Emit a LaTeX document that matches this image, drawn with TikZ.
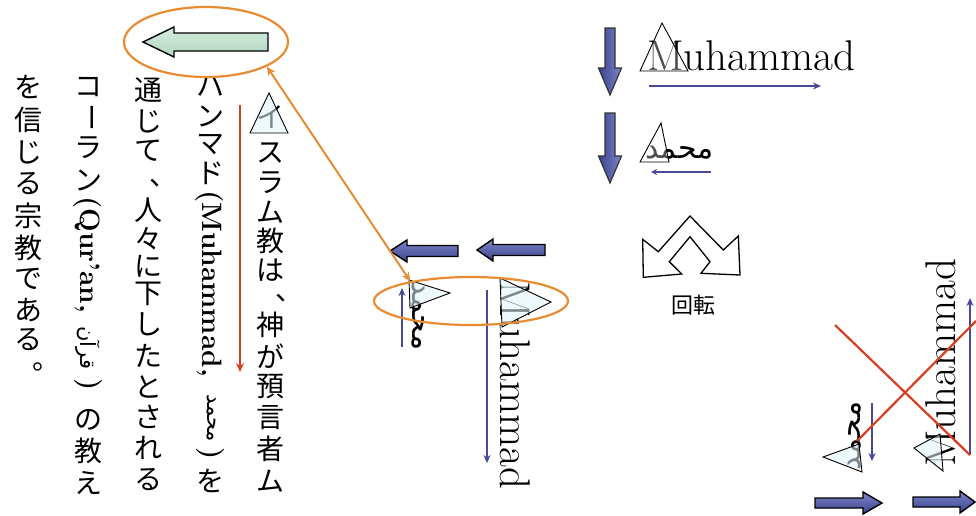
\documentclass[tikz,border=0pt]{standalone}
\usepackage{fontspec}
\usetikzlibrary{arrows.meta,shapes.geometric}
\newfontfamily\jpfont{Noto Sans CJK JP}
\newfontfamily\arabicfont[Script=Arabic]{DejaVu Sans}
\TeXXeTstate=1
\definecolor{orangec}{RGB}{232,140,50}
\definecolor{redc}{RGB}{214,64,32}
\definecolor{arrblue}{RGB}{72,74,152}
\definecolor{blklight}{RGB}{124,134,200}
\definecolor{blkdark}{RGB}{58,66,140}
\definecolor{greenl}{RGB}{214,236,222}
\definecolor{greend}{RGB}{176,214,192}
\begin{document}
\begin{tikzpicture}[x=1pt,y=-1pt,
  jp/.style={font=\jpfont\fontsize{28}{28}\selectfont, inner sep=0pt},
  jpsmall/.style={font=\jpfont\fontsize{22}{22}\selectfont, inner sep=0pt},
  lat/.style={font=\bfseries\fontsize{28}{28}\selectfont, inner sep=0pt},
  big/.style={font=\fontsize{43}{43}\selectfont, inner sep=0pt},
  ar/.style={font=\arabicfont\fontsize{30}{30}\selectfont, inner sep=0pt},
  arsmall/.style={font=\arabicfont\fontsize{21}{21}\selectfont, inner sep=0pt},
  tri/.style={draw=black, line width=0.9pt, fill=cyan!12, fill opacity=0.55},
  blkh/.style={draw=black, line width=1.4pt, top color=blklight, bottom color=blkdark},
  blkv/.style={draw=black!80, line width=1.2pt, left color=blkdark, right color=blklight},
  thinarr/.style={draw=arrblue, line width=1.8pt, -{Stealth[length=8pt,width=7pt]}},
  orline/.style={draw=orangec, line width=2.2pt},
  redline/.style={draw=redc, line width=2.2pt}
]
\useasboundingbox[fill=white] (0,0) rectangle (976,515);

% ---------- vertical Japanese text ----------
% column 1
\foreach \ch/\yy [count=\i] in {イ/117,ス/153,ラ/183,ム/212,教/241,は/270,神/325,が/356,預/387,言/418,者/449,ム/481}
  \node[jp] (ca\i) at (270,\yy) {\ch};
\node[jp, anchor=base west] (ca13) at (275.5,300) {、};
% column 2
\foreach \ch/\yy [count=\i] in {ハ/87,ン/116,マ/145,ド/173,を/481}
  \node[jp] (cb\i) at (210,\yy) {\ch};
\node[lat, rotate=-90, anchor=base west] (cb6) at (202,190) {(Muhammad,};
\node[arsmall, rotate=-90] (cb7) at (212,418) {\beginR محمد\endR};
\node[lat, rotate=-90] (cb8) at (210,454) {)};
% column 3
\foreach \ch/\yy [count=\i] in {通/90,じ/121,て/151,人/210,々/239,に/266,下/294,し/324,た/356,と/387,さ/417,れ/448,る/480}
  \node[jp] (cc\i) at (148,\yy) {\ch};
\node[jp, anchor=base west] (cc14) at (149.5,185) {、};
% column 4
\foreach \ch/\yy [count=\i] in {コ/87,ラ/148,ン/180,の/420,教/451,え/483}
  \node[jp] (cd\i) at (88,\yy) {\ch};
\node[jp, rotate=-90] (cd7) at (88,117) {ー};
\node[lat, rotate=-90, anchor=base west] (cd8) at (80,196) {(Qur'an,};
\node[arsmall, rotate=-90] (cd9) at (88,348) {\beginR قرآن\endR};
\node[lat, rotate=-90] (cd10) at (88,385) {)};
% column 5
\foreach \ch/\yy [count=\i] in {を/87,信/120,じ/152,る/184,宗/216,教/248,で/279,あ/310,る/340}
  \node[jp] (ce\i) at (28,\yy) {\ch};
\node[jp, anchor=base west] (ce10) at (32.5,369) {。};

% triangle on first character
\draw[tri] (269,93) -- (250,133) -- (288,133) -- cycle;

% red reading arrow
\coordinate (r1) at (240,105);
\coordinate (r2) at (240,372);
\draw[redline, line width=2pt, -{Stealth[length=9pt,width=8pt]}] (r1) -- (r2);

% ---------- top ellipse with green arrow ----------
\draw[draw=black, line width=1.4pt, top color=greenl, bottom color=greend]
  (143,42) -- (174,27) -- (174,33) -- (268,33) -- (268,51) -- (174,51) -- (174,57) -- cycle;
\node[ellipse, orline, minimum width=164pt, minimum height=70pt, inner sep=0pt] (e1) at (206,42) {};

% ---------- middle group ----------
\draw[blkh] (390,251) -- (407,240) -- (407,245.5) -- (458,245.5) -- (458,256.5) -- (407,256.5) -- (407,262) -- cycle;
\draw[blkh] (477,250) -- (493,239) -- (493,244.5) -- (545,244.5) -- (545,255.5) -- (493,255.5) -- (493,261) -- cycle;

\node[ar, rotate=-90] (ma) at (418,316) {\beginR محمد\endR};
\draw[tri] (409,280) -- (450,293) -- (410,308) -- cycle;
\coordinate (mu1) at (402,347);
\coordinate (mu2) at (402,288);
\draw[thinarr] (mu1) -- (mu2);

\node[big, rotate=-90, anchor=base west] (mm) at (500,281) {Muhammad};
\draw[tri] (500,278) -- (551,302) -- (502,327) -- cycle;
\coordinate (md1) at (487,290);
\coordinate (md2) at (487,463);
\draw[thinarr] (md1) -- (md2);

\node[ellipse, orline, minimum width=194pt, minimum height=48pt, inner sep=0pt] (e2) at (471,301) {};
\draw[orline, line width=2pt, {Stealth[length=9pt,width=8pt]}-{Stealth[length=9pt,width=8pt]}] (e1.-22) -- (e2.162);

% ---------- top right group ----------
\draw[blkv] (610,95) -- (598.5,68) -- (605,68) -- (605,28) -- (615,28) -- (615,68) -- (621.5,68) -- cycle;
\draw[blkv] (610,183) -- (598.5,156) -- (605,156) -- (605,113) -- (615,113) -- (615,156) -- (621.5,156) -- cycle;

\node[big, anchor=base west] (tm) at (647,70) {Muhammad};
\draw[tri, fill=white, fill opacity=0.3] (662,23) -- (640,71) -- (688,71) -- cycle;
\coordinate (ta1) at (649,86);
\coordinate (ta2) at (821,86);
\draw[thinarr] (ta1) -- (ta2);

\node[ar, anchor=base west] (ta) at (645,158) {\beginR محمد\endR};
\draw[tri, fill=white, fill opacity=0.3] (661,123) -- (640,162) -- (669,162) -- cycle;
\coordinate (tb1) at (711,172);
\coordinate (tb2) at (651,172);
\draw[thinarr, -{Stealth[length=6pt,width=6pt]}] (tb1) -- (tb2);

% rotation symbol
\draw[line width=1.3pt, fill=white] (690,216) -- (723.3,250) -- (738.3,236) -- (740,275) -- (701,273.3) -- (710,261.7) -- (690,236.7) -- (669.3,261.7) -- (681.7,274) -- (643.3,277.3) -- (642.7,239.3) -- (658.3,251.7) -- cycle;
\node[jpsmall] (rot) at (693,305) {回転};

% ---------- bottom right group ----------
\node[ar, rotate=90] (ba) at (855,436) {\beginR محمد\endR};
\draw[tri] (823,457) -- (859,444) -- (862,472) -- cycle;
\coordinate (bd1) at (872,403);
\coordinate (bd2) at (872,461);
\draw[thinarr] (bd1) -- (bd2);

\node[big, rotate=90, anchor=base west] (bm) at (955,467) {Muhammad};
\draw[tri] (914,448) -- (940,434) -- (943,471) -- cycle;
\coordinate (bu1) at (970,455);
\coordinate (bu2) at (970,298);
\draw[thinarr] (bu1) -- (bu2);

\coordinate (x1) at (835,325);
\coordinate (x2) at (970,455);
\coordinate (x3) at (857,441);
\coordinate (x4) at (976,321);
\draw[redline] (x1) -- (x2);
\draw[redline] (x3) -- (x4);

\draw[blkh] (882,503) -- (863,492) -- (863,498) -- (815,498) -- (815,508) -- (863,508) -- (863,514) -- cycle;
\draw[blkh] (975,502) -- (960,491) -- (960,497) -- (913,497) -- (913,507) -- (960,507) -- (960,513) -- cycle;
\end{tikzpicture}
\end{document}
